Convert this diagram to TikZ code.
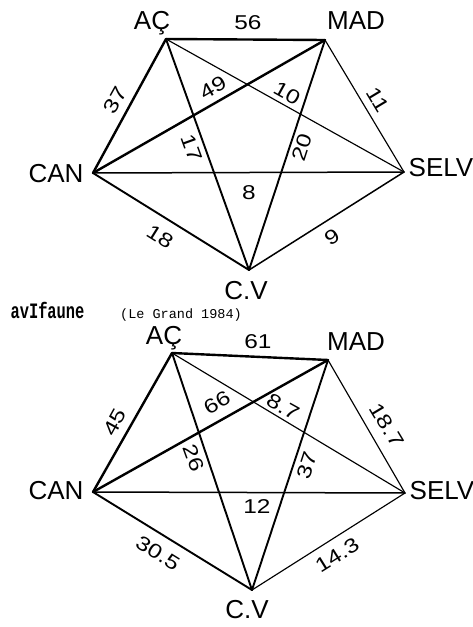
\documentclass[tikz,border=0pt]{standalone}
\usepackage{fontspec}
\setmainfont{Liberation Sans}
\newfontfamily\avfont{Liberation Mono}
\newfontfamily\reffont{Liberation Mono}
\begin{document}
\begin{tikzpicture}[x=1pt,y=-1pt,line cap=round,line join=round,
  vlabel/.style={font=\fontsize{26}{26}\selectfont,inner sep=0pt,anchor=base},
  wlabel/.style={font=\fontsize{20}{20}\selectfont,inner sep=0pt},
  widen/.style={xscale=1.22},
  ethick/.style={line width=2.4pt},
  emed/.style={line width=1.9pt},
  elight/.style={line width=1.5pt},
  ethin/.style={line width=1.15pt}]
\useasboundingbox (0,0) rectangle (473,627);
% ---------- top pentagon ----------
\coordinate (A1) at (166,39);
\coordinate (M1) at (325,40);
\coordinate (C1) at (93,173);
\coordinate (S1) at (404,172);
\coordinate (V1) at (249,270);
\draw[ethick] (A1) -- (M1);
\draw[ethick] (C1) -- (A1);
\draw[ethick] (C1) -- (M1);
\draw[emed] (A1) -- (V1);
\draw[emed] (M1) -- (V1);
\draw[emed] (C1) -- (V1);
\draw[elight] (V1) -- (S1);
\draw[elight] (C1) -- (S1);
\draw[ethin] (A1) -- (S1);
\draw[ethin] (M1) -- (S1);
\node[vlabel] (lA1) at (152,29) {AÇ};
\node[vlabel] (lM1) at (356,29) {MAD};
\node[vlabel] (lC1) at (56,182) {CAN};
\node[vlabel] (lS1) at (441,176) {SELV};
\node[vlabel] (lV1) at (246,299) {C.V};
\node[wlabel,anchor=base,widen] (n56) at (248,29) {56};
\node[wlabel,rotate=61,widen] (n37) at (115,100) {37};
\node[wlabel,rotate=30,widen] (n49) at (213,88) {49};
\node[wlabel,rotate=-29,widen] (n10) at (287,93) {10};
\node[wlabel,rotate=-59,widen] (n11) at (378,100) {11};
\node[wlabel,rotate=-70,widen] (n17) at (192,148) {17};
\node[wlabel,rotate=72,widen] (n20) at (302,147) {20};
\node[wlabel,widen] (n8) at (249,193) {8};
\node[wlabel,rotate=-32,widen] (n18) at (160,237) {18};
\node[wlabel,rotate=32,widen] (n9) at (332,237) {9};
% ---------- middle text ----------
\node[font=\avfont\bfseries\fontsize{22}{22}\selectfont,inner sep=0pt,anchor=base,xscale=0.7] (av) at (47.5,318) {avIfaune};
\node[font=\reffont\fontsize{13.5}{13.5}\selectfont,inner sep=0pt,anchor=base] (ref) at (181,318) {(Le Grand 1984)};
% ---------- bottom pentagon ----------
\coordinate (A2) at (172,353);
\coordinate (M2) at (328,360);
\coordinate (C2) at (93,492);
\coordinate (S2) at (405,493);
\coordinate (V2) at (252,590);
\draw[ethick] (A2) -- (M2);
\draw[ethick] (C2) -- (A2);
\draw[ethick] (C2) -- (M2);
\draw[emed] (A2) -- (V2);
\draw[emed] (M2) -- (V2);
\draw[emed] (C2) -- (V2);
\draw[elight] (C2) -- (S2);
\draw[ethin] (V2) -- (S2);
\draw[ethin] (A2) -- (S2);
\draw[ethin] (M2) -- (S2);
\node[vlabel] (lA2) at (164,344) {AÇ};
\node[vlabel] (lM2) at (356,350) {MAD};
\node[vlabel] (lC2) at (56,499) {CAN};
\node[vlabel] (lS2) at (442,499) {SELV};
\node[vlabel] (lV2) at (247,618) {C.V};
\node[wlabel,anchor=base,widen] (n61) at (258,348) {61};
\node[wlabel,rotate=61,widen] (n45) at (115,422) {45};
\node[wlabel,rotate=30,widen] (n66) at (217,403) {66};
\node[wlabel,rotate=-29,widen] (n87) at (283,407) {8.7};
\node[wlabel,rotate=-59,widen] (n187) at (387,425) {18.7};
\node[wlabel,rotate=-70,widen] (n26) at (194,458) {26};
\node[wlabel,rotate=72,widen] (n37b) at (307,465) {37};
\node[wlabel,widen] (n12) at (257,507) {12};
\node[wlabel,rotate=-32,widen] (n305) at (158,553) {30.5};
\node[wlabel,rotate=32,widen] (n143) at (337,555) {14.3};
\end{tikzpicture}
\end{document}
